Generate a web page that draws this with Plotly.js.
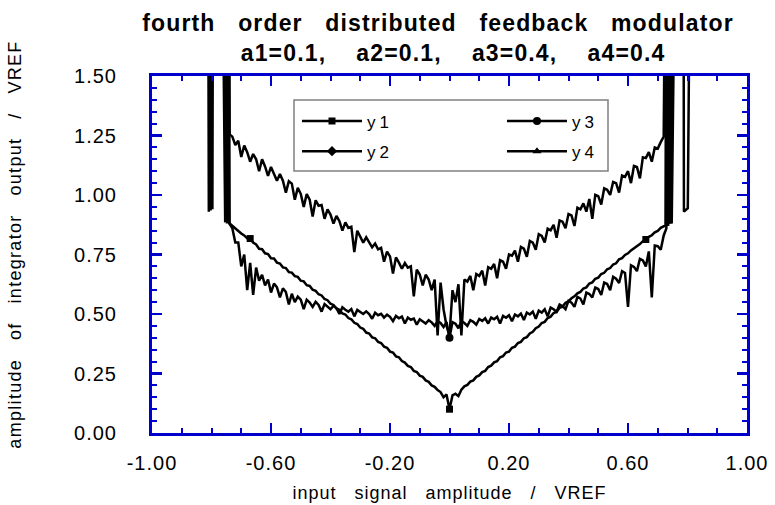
<!DOCTYPE html>
<html>
<head>
<meta charset="utf-8">
<script src="https://cdn.plot.ly/plotly-3.0.1.min.js"></script>
<style>
html,body{margin:0;padding:0;background:#ffffff;}
#chart{width:775px;height:505px;}
.gtitle{letter-spacing:1.15px;}
.xtick text,.ytick text{letter-spacing:1px;}
.g-xtitle text{letter-spacing:1px;}
.g-ytitle text{letter-spacing:1.3px;}
.g-ytitle{transform:translate(0px,-10px);}
text.legendtext,g.legend text,g.legend2 text{letter-spacing:4px;}
</style>
</head>
<body>
<div id="chart"></div>
<script>
// ---------- data ----------
const seriesNames = ['y1', 'y2', 'y3', 'y4'];

// shared x for y1, y2, y3
const x123 = [-0.765,-0.754,-0.751,-0.748,-0.745,-0.742,-0.739,
-0.73,-0.72,-0.71,-0.70,-0.69,-0.68,-0.67,-0.66,-0.65,-0.64,
-0.63,-0.62,-0.61,-0.60,-0.59,-0.58,-0.57,-0.56,-0.55,-0.54,
-0.53,-0.52,-0.51,-0.50,-0.49,-0.48,-0.47,-0.46,-0.45,-0.44,
-0.43,-0.42,-0.41,-0.40,-0.39,-0.38,-0.37,-0.36,-0.35,-0.34,
-0.33,-0.32,-0.31,-0.30,-0.29,-0.28,-0.27,-0.26,-0.25,-0.24,
-0.23,-0.22,-0.21,-0.20,-0.19,-0.18,-0.17,-0.16,-0.15,-0.14,
-0.13,-0.12,-0.11,-0.10,-0.09,-0.08,-0.07,-0.06,-0.05,-0.04,
-0.03,-0.02,-0.01,0,0.01,0.02,0.03,0.04,0.05,0.06,
0.07,0.08,0.09,0.10,0.11,0.12,0.13,0.14,0.15,0.16,
0.17,0.18,0.19,0.20,0.21,0.22,0.23,0.24,0.25,0.26,
0.27,0.28,0.29,0.30,0.31,0.32,0.33,0.34,0.35,0.36,
0.37,0.38,0.39,0.40,0.41,0.42,0.43,0.44,0.45,0.46,
0.47,0.48,0.49,0.50,0.51,0.52,0.53,0.54,0.55,0.56,
0.57,0.58,0.59,0.60,0.61,0.62,0.63,0.64,0.65,0.66,
0.67,0.68,0.69,0.70,0.71,0.72,
0.726,0.729,0.732,0.735,0.738,0.741,0.744,0.747,0.76];

const y1 = [2.3,2.2,0.89,2.1,0.885,2.0,0.88,
0.87,0.858,0.85,0.838,0.83,0.818,0.817,0.80,0.792,0.774,
0.772,0.755,0.752,0.734,0.733,0.716,0.712,0.696,0.693,0.676,
0.674,0.659,0.656,0.64,0.637,0.621,0.618,0.602,0.597,0.583,
0.578,0.563,0.558,0.543,0.538,0.523,0.518,0.502,0.498,0.483,
0.478,0.463,0.458,0.443,0.438,0.422,0.418,0.402,0.398,0.383,
0.378,0.363,0.358,0.342,0.338,0.322,0.318,0.302,0.296,0.282,
0.277,0.261,0.256,0.241,0.236,0.221,0.215,0.2,0.194,0.18,
0.172,0.15,0.162,0.10,0.158,0.165,0.155,0.182,0.196,0.202,
0.216,0.221,0.236,0.242,0.256,0.261,0.277,0.283,0.297,0.302,
0.318,0.323,0.338,0.342,0.358,0.363,0.378,0.383,0.398,0.403,
0.418,0.425,0.44,0.447,0.462,0.467,0.483,0.489,0.504,0.509,
0.526,0.531,0.547,0.553,0.566,0.574,0.587,0.593,0.607,0.612,
0.628,0.633,0.648,0.653,0.668,0.673,0.688,0.693,0.708,0.713,
0.73,0.735,0.748,0.755,0.767,0.775,0.786,0.794,0.806,0.813,
0.824,0.831,0.843,0.849,0.862,0.867,
0.872,2.2,0.876,2.1,0.879,2.2,0.88,2.3,2.4];

const y2 = [2.4,2.3,2.2,1.27,2.2,2.1,1.255,
1.245,1.21,1.228,1.16,1.208,1.18,1.14,1.172,1.15,1.10,
1.15,1.12,1.08,1.118,1.09,1.06,1.088,1.06,1.01,1.058,
1.048,0.98,1.03,1.005,0.95,1.004,0.98,0.91,0.978,0.955,
0.958,0.90,0.94,0.918,0.88,0.912,0.89,0.85,0.885,0.862,
0.867,0.76,0.85,0.828,0.80,0.822,0.80,0.78,0.796,0.772,
0.778,0.72,0.762,0.742,0.67,0.738,0.716,0.69,0.714,0.695,
0.70,0.574,0.686,0.666,0.62,0.665,0.645,0.60,0.645,0.41,
0.632,0.52,0.45,0.41,0.60,0.55,0.625,0.41,0.645,0.636,
0.66,0.60,0.668,0.66,0.682,0.62,0.697,0.69,0.71,0.65,
0.726,0.72,0.69,0.75,0.745,0.766,0.72,0.782,0.775,0.74,
0.807,0.80,0.77,0.835,0.828,0.80,0.859,0.852,0.875,0.82,
0.893,0.888,0.86,0.92,0.914,0.87,0.947,0.94,0.965,0.93,
0.983,0.90,1.001,0.995,0.96,1.028,1.022,1.0,1.055,1.05,
1.01,1.082,1.076,1.10,1.05,1.122,1.118,1.07,1.158,1.155,
1.18,1.14,1.20,1.195,1.222,1.245,
2.2,2.3,2.3,2.4,2.4,2.5,2.5,2.5,2.6];

const y3 = [2.3,0.885,2.2,0.88,2.1,0.885,0.88,
0.86,0.80,0.80,0.70,0.75,0.60,0.715,0.58,0.695,0.64,
0.665,0.62,0.645,0.59,0.628,0.612,0.57,0.608,0.592,0.54,
0.585,0.55,0.573,0.56,0.52,0.56,0.548,0.53,0.551,0.538,
0.51,0.542,0.532,0.52,0.535,0.524,0.50,0.528,0.518,0.51,
0.521,0.49,0.517,0.507,0.50,0.511,0.50,0.48,0.505,0.495,
0.501,0.485,0.497,0.488,0.47,0.492,0.482,0.489,0.46,0.485,
0.476,0.481,0.455,0.478,0.469,0.46,0.474,0.465,0.45,0.47,
0.462,0.445,0.466,0.40,0.466,0.459,0.44,0.47,0.462,0.45,
0.474,0.467,0.455,0.479,0.471,0.482,0.46,0.485,0.478,0.488,
0.46,0.492,0.484,0.495,0.47,0.498,0.49,0.502,0.475,0.506,
0.498,0.51,0.48,0.514,0.506,0.52,0.49,0.527,0.52,0.51,
0.54,0.533,0.52,0.555,0.548,0.53,0.572,0.565,0.54,0.59,
0.584,0.57,0.611,0.605,0.58,0.632,0.626,0.60,0.656,0.648,
0.63,0.68,0.672,0.53,0.705,0.698,0.68,0.732,0.725,0.70,
0.763,0.57,0.788,0.785,0.77,0.83,
0.85,0.86,2.2,0.87,2.1,0.88,2.2,0.88,2.3];

// y4 stays above the plotted range except at the two edge excursions
const x4 = [-0.812,-0.809,-0.806,-0.803,-0.800,-0.797,-0.794,-0.780,
-0.70,-0.60,-0.50,-0.40,-0.30,-0.20,-0.10,0,0.10,0.20,0.30,0.40,0.50,0.60,0.70,
0.775,0.786,0.788,0.801,0.803,0.812];
const y4 = [2.5,0.93,2.6,0.935,2.5,0.94,2.6,2.4,
2.2,2.0,1.9,1.8,1.75,1.7,1.65,1.6,1.65,1.7,1.75,1.8,1.9,2.0,2.2,
2.4,2.5,0.93,0.945,2.5,2.6];

// x positions where a symbol is drawn on each curve
const y1Marks = [-0.67, 0, 0.66];
const y2Marks = [];
const y3Marks = [0];
const y4Marks = [];

// tick labels
const xTickVals = [-1, -0.6, -0.2, 0.2, 0.6, 1];
const xTickText = ['-1.00', '-0.60', '-0.20', '0.20', '0.60', '1.00'];
const yTickVals = [0, 0.25, 0.5, 0.75, 1, 1.25, 1.5];
const yTickText = ['0.00', '0.25', '0.50', '0.75', '1.00', '1.25', '1.50'];

// ---------- styling ----------
const BLUE = '#0000cc';
const FONT = 'Liberation Sans, Arial, Helvetica, sans-serif';
const SP = '\u00a0';
const GAP = SP + SP + ' ';

function markColors(xs, marks) {
  // first point (off-scale) sets the legend colour; others visible only at marks
  return xs.map((x, i) => (i === 0 || marks.some(m => Math.abs(m - x) < 1e-9)) ? '#000000' : 'rgba(0,0,0,0)');
}

function mkTrace(name, xs, ys, marks, symbol, size, legend, group, rank) {
  return {
    type: 'scatter', mode: 'lines+markers', name: name,
    x: xs, y: ys,
    line: {color: '#000000', width: 2.5},
    marker: {symbol: symbol, size: size, color: markColors(xs, marks), line: {width: 0}},
    legend: legend, legendgroup: group, legendrank: rank,
    hoverinfo: 'skip', cliponaxis: true
  };
}

const traces = [
  mkTrace(seriesNames[0], x123, y1, y1Marks, 'square', 7, 'legend', 'g1', 1),
  mkTrace(seriesNames[1], x123, y2, y2Marks, 'diamond', 8, 'legend', 'g2', 2),
  mkTrace(seriesNames[2], x123, y3, y3Marks, 'circle', 8, 'legend2', 'g3', 1),
  mkTrace(seriesNames[3], x4, y4, y4Marks, 'triangle-up', 8, 'legend2', 'g4', 2)
];

const axisBase = {
  showgrid: false, zeroline: false, showline: true,
  linecolor: BLUE, linewidth: 3, mirror: 'ticks',
  ticks: 'inside', ticklen: 10, tickwidth: 2.5, tickcolor: BLUE,
  tickfont: {family: FONT, size: 20, color: '#000000'},
  fixedrange: true
};

const legendBase = {
  orientation: 'v', xanchor: 'left', yanchor: 'top',
  bgcolor: 'rgba(0,0,0,0)', borderwidth: 0,
  font: {family: FONT, size: 17, color: '#000000'},
  itemwidth: 60, tracegroupgap: 5, itemclick: false, itemdoubleclick: false
};

const L = 152, R = 28, T = 76, B = 72;
const PW = 775 - L - R, PH = 505 - T - B;
const px2x = p => (p - L) / PW;
const px2y = p => 1 - (p - T) / PH;

const layout = {
  width: 775, height: 505,
  margin: {l: L, r: R, t: T, b: B, pad: 0},
  paper_bgcolor: '#ffffff', plot_bgcolor: '#ffffff',
  font: {family: FONT, color: '#000000'},
  showlegend: true,
  title: {
    text: 'fourth' + SP + SP + ' order' + SP + SP + ' distributed' + SP + SP + ' feedback' + SP + SP + ' modulator<br>' +
          SP + SP + SP + SP + 'a1=0.1,' + SP + SP + SP + ' a2=0.1,' + SP + SP + SP + ' a3=0.4,' + SP + SP + SP + ' a4=0.4',
    font: {family: FONT, size: 23, color: '#000000', weight: 'bold'},
    xref: 'container', x: 438 / 775, xanchor: 'center',
    yref: 'container', y: 1 - 31 / 505, yanchor: 'top'
  },
  xaxis: Object.assign({}, axisBase, {
    range: [-1, 1],
    tickmode: 'array', tickvals: xTickVals, ticktext: xTickText,
    ticklabelstandoff: 10,
    minor: {ticks: 'inside', ticklen: 5, tickwidth: 2, tickcolor: BLUE, tickmode: 'linear', tick0: -1, dtick: 0.1, showgrid: false},
    title: {text: 'input' + SP + SP + ' signal' + SP + SP + ' amplitude' + SP + SP + ' /' + SP + SP + ' VREF',
            font: {family: FONT, size: 18, color: '#000000'}}
  }),
  yaxis: Object.assign({}, axisBase, {
    range: [0, 1.5],
    tickmode: 'array', tickvals: yTickVals, ticktext: yTickText,
    ticklabelstandoff: 28,
    minor: {ticks: 'inside', ticklen: 5, tickwidth: 2, tickcolor: BLUE, tickmode: 'linear', tick0: 0, dtick: 0.05, showgrid: false},
    title: {text: 'amplitude' + GAP + 'of' + GAP + 'integrator' + GAP + 'output' + GAP + '/' + GAP + 'VREF',
            font: {family: FONT, size: 18, color: '#000000'}, standoff: 48}
  }),
  legend: Object.assign({}, legendBase, {x: px2x(297), y: px2y(103.5)}),
  legend2: Object.assign({}, legendBase, {x: px2x(502), y: px2y(103.5)}),
  shapes: [{
    type: 'rect', xref: 'paper', yref: 'paper', layer: 'above',
    x0: px2x(294), x1: px2x(608), y0: px2y(171), y1: px2y(100),
    line: {color: '#808080', width: 1.5}, fillcolor: '#ffffff'
  }]
};

Plotly.newPlot('chart', traces, layout, {displayModeBar: false, staticPlot: true, responsive: false});
</script>
</body>
</html>
